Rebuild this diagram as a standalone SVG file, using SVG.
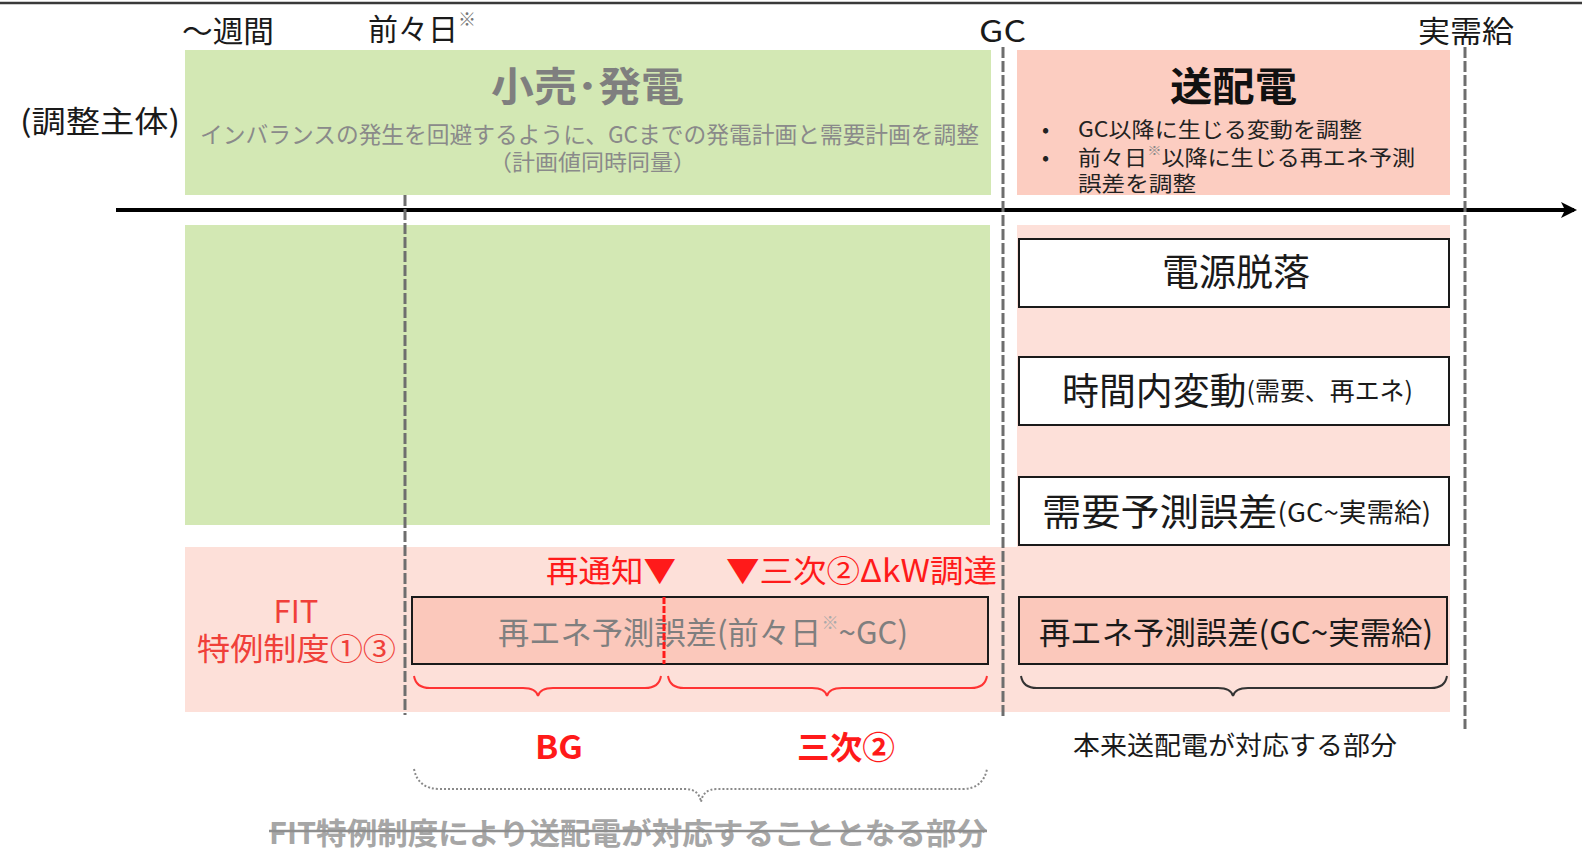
<svg xmlns="http://www.w3.org/2000/svg" width="1582" height="857" viewBox="0 0 1582 857">
<defs>
<style>
text{font-family:"Noto Sans CJK JP","Noto Sans CJK SC",sans-serif;dominant-baseline:central}
.hdr{font-size:30px;fill:#1a1a1a}
.gray{fill:#7f7f7f}
.red{fill:#ff1a1a}
.box{stroke:#1a1a1a;stroke-width:2}
.vdash{stroke:#6e6e6e;stroke-width:3;stroke-dasharray:11 3;fill:none}
.brace{fill:none;stroke-width:2}
</style>
<marker id="arr" markerWidth="16" markerHeight="16" refX="13" refY="8" orient="auto" markerUnits="userSpaceOnUse">
<path d="M0,0 L16,8 L0,16 L4,8 Z" fill="#000"/>
</marker>
</defs>
<rect width="1582" height="857" fill="#fff"/>
<line x1="0" y1="3" x2="1582" y2="3" stroke="#3a3a3a" stroke-width="2.5"/>

<g id="timeline-labels">
<text class="hdr" x="182" y="29" textLength="92" lengthAdjust="spacingAndGlyphs">～週間</text>
<text class="hdr" x="368" y="27">前々日<tspan font-size="18" fill="#777" dy="-9">※</tspan></text>
<text class="hdr" x="979" y="29" textLength="47" lengthAdjust="spacingAndGlyphs">GC</text>
<text class="hdr" x="1418" y="29" textLength="96" lengthAdjust="spacingAndGlyphs">実需給</text>
<text class="hdr" x="20" y="119" textLength="160" lengthAdjust="spacingAndGlyphs">(調整主体)</text>
</g>

<g id="retail-gen">
<rect x="185" y="50" width="806" height="145" fill="#d3e8b4"/>
<text x="491" y="84" font-size="40" font-weight="bold" class="gray" textLength="193" lengthAdjust="spacingAndGlyphs">小売･発電</text>
<text x="200" y="133" font-size="23" fill="#8a8a8a" textLength="779" lengthAdjust="spacingAndGlyphs">インバランスの発生を回避するように、GCまでの発電計画と需要計画を調整</text>
<text x="489" y="160" font-size="22" fill="#8a8a8a" textLength="207" lengthAdjust="spacingAndGlyphs">（計画値同時同量）</text>
</g>

<g id="tso">
<rect x="1017" y="50" width="433" height="145" fill="#fccdc1"/>
<text x="1170" y="84" font-size="40" font-weight="bold" fill="#111" textLength="127" lengthAdjust="spacingAndGlyphs">送配電</text>
<g font-size="21" fill="#222">
<text x="1042" y="128">•</text>
<text x="1078" y="128" textLength="284" lengthAdjust="spacingAndGlyphs">GC以降に生じる変動を調整</text>
<text x="1042" y="156">•</text>
<text x="1078" y="156" textLength="337" lengthAdjust="spacingAndGlyphs">前々日<tspan font-size="13" fill="#888" dy="-7">※</tspan><tspan dy="7">以降に生じる再エネ予測</tspan></text>
<text x="1078" y="182" textLength="118" lengthAdjust="spacingAndGlyphs">誤差を調整</text>
</g>
</g>

<g id="background-areas">
<rect x="185" y="225" width="805" height="300" fill="#d3e8b4"/>
<rect x="1017" y="225" width="433" height="487" fill="#fde0d9"/>
<rect x="185" y="547" width="1265" height="165" fill="#fde0d9"/>
</g>

<g id="fit-label">
<text x="296" y="609" font-size="31" fill="#f0403a" text-anchor="middle">FIT</text>
<text x="197" y="646" font-size="31" fill="#f0403a" textLength="199" lengthAdjust="spacingAndGlyphs">特例制度①③</text>
</g>

<g id="node-dengen">
<rect class="box" x="1019" y="239" width="430" height="68" fill="#fff"/>
<text x="1236" y="270" font-size="37" fill="#1a1a1a" text-anchor="middle">電源脱落</text>
</g>
<g id="node-jikan">
<rect class="box" x="1019" y="357" width="430" height="68" fill="#fff"/>
<text x="1062" y="389" fill="#1a1a1a" textLength="351" lengthAdjust="spacingAndGlyphs"><tspan font-size="37">時間内変動</tspan><tspan font-size="25">(需要、再エネ)</tspan></text>
</g>
<g id="node-juyo">
<rect class="box" x="1019" y="477" width="430" height="68" fill="#fff"/>
<text x="1042" y="510" fill="#1a1a1a" textLength="389" lengthAdjust="spacingAndGlyphs"><tspan font-size="37">需要予測誤差</tspan><tspan font-size="26">(GC~実需給)</tspan></text>
</g>
<g id="node-saiene-gc">
<rect class="box" x="1019" y="597" width="428" height="67" fill="#fbc8bb"/>
<text x="1039" y="630" font-size="31" fill="#1a1a1a" textLength="394" lengthAdjust="spacingAndGlyphs">再エネ予測誤差(GC~実需給)</text>
</g>
<g id="node-saiene-pre">
<rect class="box" x="412" y="597" width="576" height="67" fill="#fbc8bb"/>
<text x="498" y="630" font-size="31" class="gray" textLength="410" lengthAdjust="spacingAndGlyphs">再エネ予測誤差(前々日<tspan font-size="17" fill="#aaa" dy="-9">※</tspan><tspan dy="9">~GC)</tspan></text>
<line x1="664" y1="597" x2="664" y2="664" stroke="#ff1a1a" stroke-width="3" stroke-dasharray="7 2"/>
</g>

<g id="markers-text">
<text x="546" y="568" font-size="31" class="red" textLength="130" lengthAdjust="spacingAndGlyphs">再通知▼</text>
<text x="726" y="568" font-size="31" class="red" textLength="271" lengthAdjust="spacingAndGlyphs">▼三次②ΔkW調達</text>
</g>

<g id="connectors">
<line x1="116" y1="210" x2="1574" y2="210" stroke="#000" stroke-width="4" marker-end="url(#arr)"/>
<line class="vdash" x1="405" y1="195" x2="405" y2="715"/>
<line class="vdash" x1="1003" y1="47" x2="1003" y2="716"/>
<line class="vdash" x1="1465" y1="47" x2="1465" y2="729"/>
<path class="brace" stroke="#ff3333" d="M414,676 Q416,688 430,688 L523,688 Q536,688 538,696 Q540,688 553,688 L645,688 Q659,688 661,676"/>
<path class="brace" stroke="#ff3333" d="M668,676 Q670,688 684,688 L812,688 Q825,688 827,696 Q829,688 842,688 L971,688 Q985,688 987,676"/>
<path class="brace" stroke="#333" d="M1021,676 Q1023,688 1037,688 L1218,688 Q1231,688 1233,696 Q1235,688 1248,688 L1431,688 Q1445,688 1447,676"/>
<path class="brace" stroke="#8a8a8a" stroke-dasharray="2 2" d="M414,769 Q418,789 440,789 L685,789 Q699,789 701,802 Q703,789 717,789 L962,789 Q983,789 987,769"/>
</g>

<g id="bottom-labels">
<text x="535" y="745" font-size="32" font-weight="bold" class="red" textLength="48" lengthAdjust="spacingAndGlyphs">BG</text>
<text x="797" y="745" font-size="32" font-weight="bold" class="red" textLength="98" lengthAdjust="spacingAndGlyphs">三次②</text>
<text x="1073" y="743" font-size="26" fill="#1a1a1a" textLength="324" lengthAdjust="spacingAndGlyphs">本来送配電が対応する部分</text>
<text x="269" y="831" font-size="30" font-weight="bold" fill="#a6a6a6" textLength="718" lengthAdjust="spacingAndGlyphs">FIT特例制度により送配電が対応することとなる部分</text>
<line x1="269" y1="831" x2="987" y2="831" stroke="#8f8f8f" stroke-width="2.5"/>
</g>
</svg>
